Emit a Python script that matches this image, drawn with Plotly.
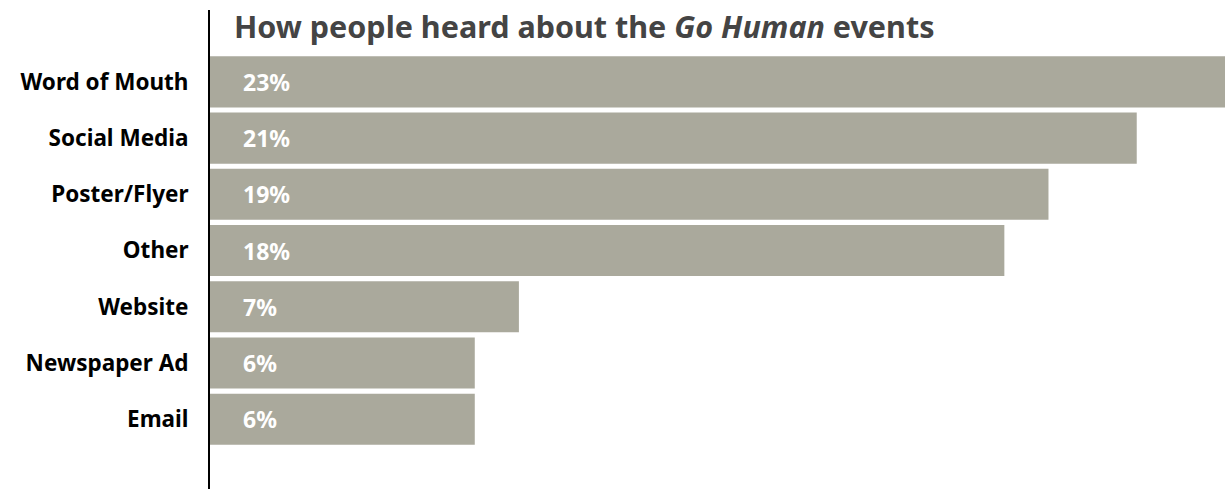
import plotly.graph_objects as go

categories = ["Word of Mouth", "Social Media", "Poster/Flyer", "Other", "Website", "Newspaper Ad", "Email"]
values = [23, 21, 19, 18, 7, 6, 6]
value_labels = ["23%", "21%", "19%", "18%", "7%", "6%", "6%"]

BAR = "#aaa99c"
FONT = "Noto Sans"

fig = go.Figure()
fig.add_trace(go.Bar(
    x=values, y=categories, orientation="h",
    marker=dict(color=BAR, line=dict(width=0)),
    width=0.91, hoverinfo="skip",
))

for c, lab in zip(categories, value_labels):
    fig.add_annotation(x=0, y=c, xref="x", yref="y", text=lab, showarrow=False,
                       xanchor="left", yanchor="middle", xshift=31,
                       font=dict(family=FONT, size=23, color="white", weight="bold"))

fig.update_layout(
    width=1225, height=489,
    margin=dict(l=210, r=0, t=10, b=0),
    paper_bgcolor="white", plot_bgcolor="white",
    showlegend=False,
    title=dict(text="How people heard about the <i>Go Human</i> events",
               x=234/1225, xref="container", xanchor="left",
               y=1-27/489, yref="container", yanchor="middle",
               font=dict(family=FONT, size=30.5, color="#444444", weight="bold")),
    xaxis=dict(range=[0, 23], showgrid=False, zeroline=False, showticklabels=False,
               showline=False, fixedrange=True),
    yaxis=dict(type="category", categoryorder="array", categoryarray=categories,
               range=[7.241, -1.277], autorange=False, fixedrange=True,
               showgrid=False, zeroline=False, showline=True, linecolor="black", linewidth=2,
               ticks="outside", ticklen=15, tickcolor="rgba(0,0,0,0)",
               tickfont=dict(family=FONT, size=22.5, color="black", weight="bold")),
)

fig.write_html("out.html", config={"displayModeBar": False},
               post_script="document.body.style.margin='0';")
